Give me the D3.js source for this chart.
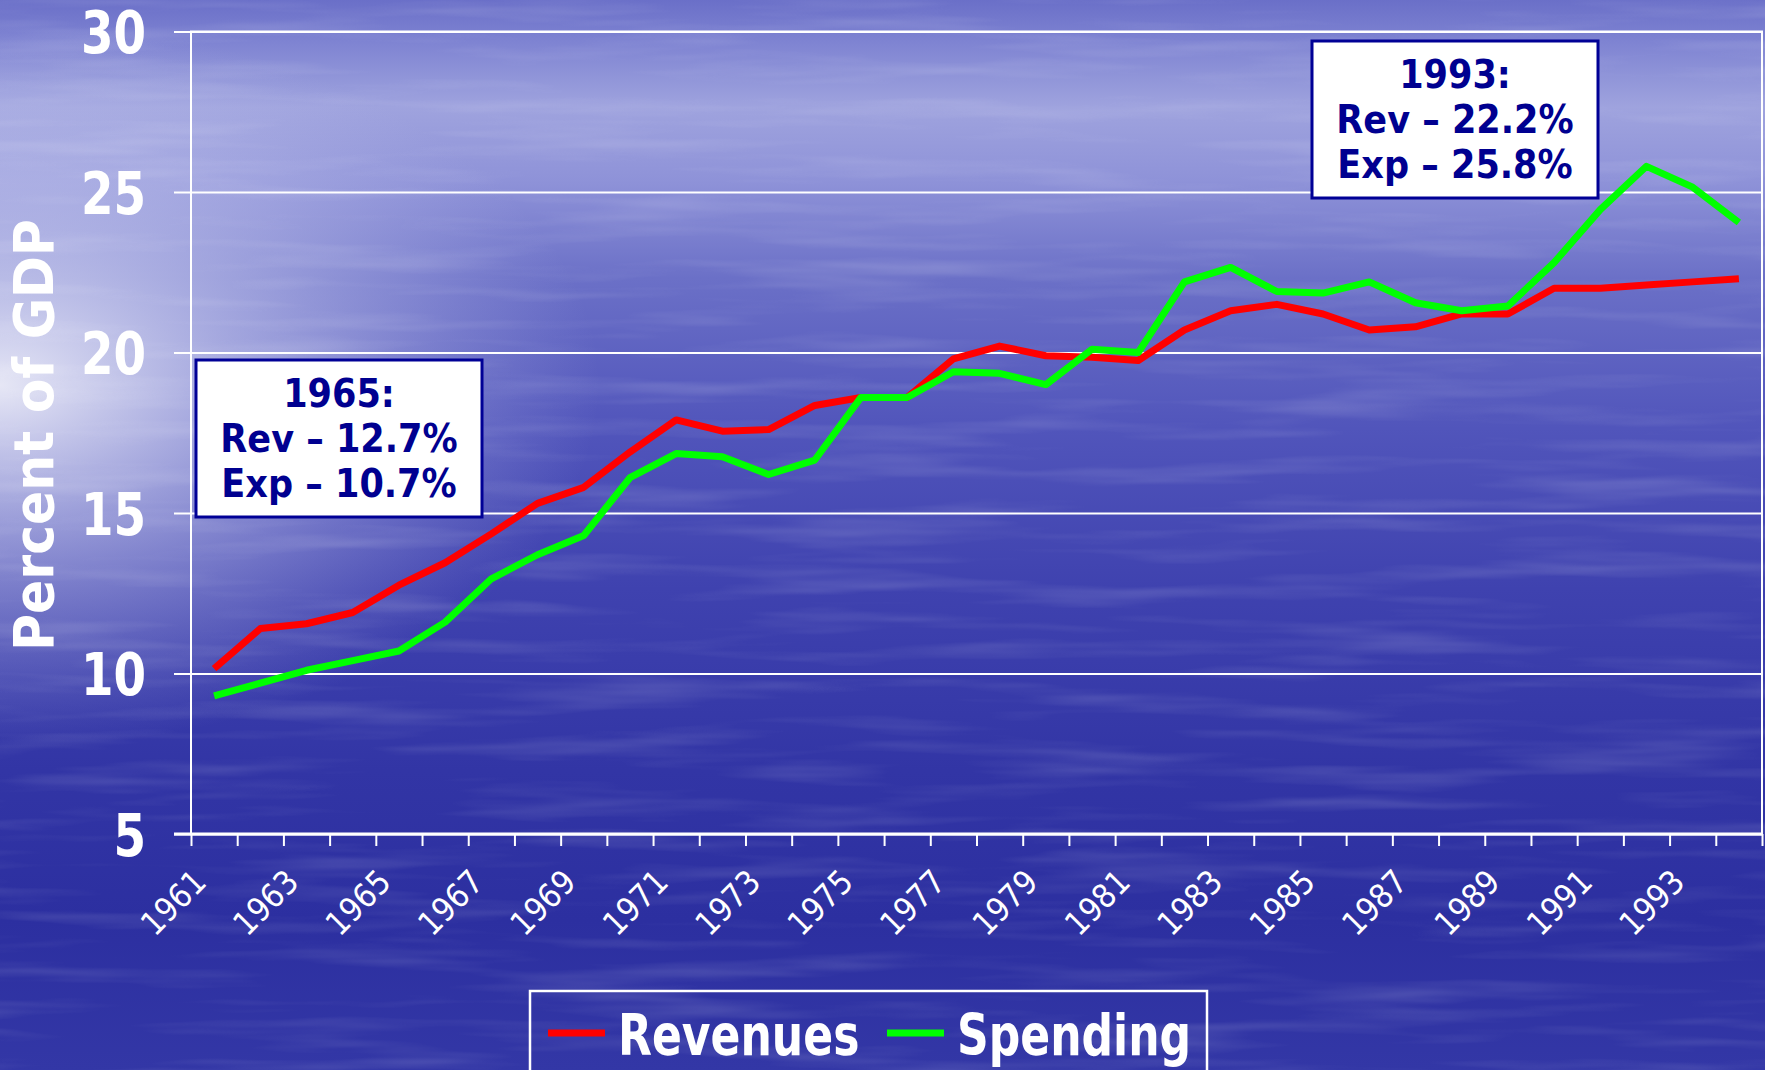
<!doctype html>
<html>
<head>
<meta charset="UTF-8">
<title>Revenues and Spending</title>
<script src="https://cdn.jsdelivr.net/npm/d3@7"></script>
<style>
  body { margin: 0; overflow: hidden; background: #3a3dab; }
  svg { display: block; }
  text { font-family: 'DejaVu Sans Condensed', 'DejaVu Sans', sans-serif; font-stretch: condensed; }
</style>
</head>
<body>
<script>

// data
var years = [1961, 1962, 1963, 1964, 1965, 1966, 1967, 1968, 1969, 1970,
             1971, 1972, 1973, 1974, 1975, 1976, 1977, 1978, 1979, 1980,
             1981, 1982, 1983, 1984, 1985, 1986, 1987, 1988, 1989, 1990,
             1991, 1992, 1993, 1994];

var revenues = [10.15, 11.4, 11.55, 11.9, 12.75, 13.45, 14.35, 15.3, 15.8, 16.9,
                17.9, 17.55, 17.6, 18.35, 18.6, 18.6, 19.8, 20.2, 19.9, 19.85,
                19.75, 20.7, 21.3, 21.5, 21.2, 20.7, 20.8, 21.2, 21.2, 22.0,
                22.0, 22.1, 22.2, 22.3];

var spending = [9.3, 9.7, 10.1, 10.4, 10.7, 11.6, 12.95, 13.7, 14.3, 16.1,
                16.85, 16.75, 16.2, 16.65, 18.6, 18.6, 19.4, 19.35, 19.0, 20.1,
                20.0, 22.2, 22.65, 21.9, 21.85, 22.2, 21.55, 21.3, 21.45, 22.8,
                24.45, 25.8, 25.15, 24.05];

var yTicks = [5, 10, 15, 20, 25, 30];
var xLabels = [1961, 1963, 1965, 1967, 1969, 1971, 1973, 1975, 1977,
               1979, 1981, 1983, 1985, 1987, 1989, 1991, 1993];

var seriesNames = ["Revenues", "Spending"];
var seriesColors = ["#ff0000", "#00ff00"];

var noteYears = ["1965", "1993"];
var noteRev = ["12.7%", "22.2%"];
var noteExp = ["10.7%", "25.8%"];

var W = 1765, H = 1070;
// plot area (note: "top" is taken by window.top)
var pL = 191, pR = 1762, pT = 31.5, pB = 834;

var svg = d3.select("body").append("svg")
    .attr("width", W)
    .attr("height", H);

// --- background (sea picture, roughly)
var defs = svg.append("defs");

var sky = defs.append("linearGradient").attr("id", "sky")
    .attr("x1", 0).attr("y1", 0).attr("x2", 0).attr("y2", 1);
[[0, "#6a6fc8"], [0.04, "#7f84d2"], [0.1, "#9fa3de"], [0.17, "#8e92d8"],
 [0.26, "#6b70c7"], [0.4, "#5155bb"], [0.55, "#3f42af"], [0.72, "#3235a5"],
 [0.86, "#2c2fa0"], [1, "#3337a6"]].forEach(function(s) {
    sky.append("stop").attr("offset", s[0]).attr("stop-color", s[1]);
});

var glow = defs.append("radialGradient").attr("id", "glow")
    .attr("cx", 0).attr("cy", 0.36).attr("r", 0.34);
glow.append("stop").attr("offset", 0).attr("stop-color", "#ffffff").attr("stop-opacity", 0.85);
glow.append("stop").attr("offset", 0.4).attr("stop-color", "#e6e8fa").attr("stop-opacity", 0.5);
glow.append("stop").attr("offset", 1).attr("stop-color", "#c8cbf0").attr("stop-opacity", 0);

var waves = defs.append("filter").attr("id", "waves")
    .attr("x", 0).attr("y", 0).attr("width", 1).attr("height", 1);
waves.append("feTurbulence")
    .attr("type", "fractalNoise")
    .attr("baseFrequency", "0.004 0.05")
    .attr("numOctaves", 3)
    .attr("seed", 7);
waves.append("feColorMatrix")
    .attr("type", "matrix")
    .attr("values", "0 0 0 0 1  0 0 0 0 1  0 0 0 0 1  2.2 0 0 0 -1.05");

svg.append("rect").attr("width", W).attr("height", H).attr("fill", "url(#sky)");
svg.append("rect").attr("width", W).attr("height", H).attr("fill", "url(#glow)");
svg.append("rect").attr("width", W).attr("height", H)
    .attr("filter", "url(#waves)").attr("opacity", 0.14);

// --- scales
var x = d3.scaleBand().domain(years).range([pL, pR]);
var xEdge = d3.scaleLinear().domain([0, years.length]).range([pL, pR]);
var y = d3.scaleLinear().domain([5, 30]).range([pB, pT]);

// y axis with gridlines
var yAxis = svg.append("g")
    .attr("transform", "translate(" + pL + ",0)")
    .call(d3.axisLeft(y).tickValues(yTicks).tickSize(17).tickPadding(28).tickFormat(d3.format("d")));
yAxis.select(".domain").remove();
yAxis.selectAll(".tick line").attr("stroke", "#fff").attr("stroke-width", 2);
yAxis.selectAll(".tick").append("line")
    .attr("x2", pR - pL)
    .attr("stroke", "#fff").attr("stroke-width", 2);
yAxis.selectAll(".tick text")
    .attr("fill", "#fff")
    .attr("font-size", 52)
    .attr("font-weight", "bold")
    .attr("dy", "0.36em")
    .attr("transform", "scale(1,1.13)");

// plot frame
svg.append("rect")
    .attr("x", pL).attr("y", pT)
    .attr("width", pR - pL).attr("height", pB - pT)
    .attr("fill", "none").attr("stroke", "#fff").attr("stroke-width", 2);

// x ticks at category edges
var xTickAxis = svg.append("g")
    .attr("transform", "translate(0," + pB + ")")
    .call(d3.axisBottom(xEdge).tickValues(d3.range(0, years.length + 1)).tickSize(12).tickFormat(""));
xTickAxis.select(".domain").attr("stroke", "#fff").attr("stroke-width", 3)
    .attr("d", "M" + (pL - 17) + ",0H" + pR);
xTickAxis.selectAll(".tick line").attr("stroke", "#fff").attr("stroke-width", 2);

// x labels, rotated
var xLabelAxis = svg.append("g")
    .attr("transform", "translate(0," + pB + ")")
    .call(d3.axisBottom(x).tickValues(xLabels).tickSize(0));
xLabelAxis.select(".domain").remove();
xLabelAxis.selectAll(".tick text")
    .attr("fill", "#fff")
    .attr("font-size", 33)
    .attr("text-anchor", "end")
    .attr("x", 0).attr("y", 0).attr("dy", 0)
    .attr("transform", "translate(-6,50) rotate(-45)");

// y title
svg.append("text")
    .attr("transform", "translate(53,435) rotate(-90)")
    .attr("text-anchor", "middle")
    .attr("fill", "#fff")
    .attr("font-size", 56)
    .attr("font-weight", "bold")
    .text("Percent of GDP");

// lines
var line = d3.line()
    .x(function(d, i) { return x(years[i]) + x.bandwidth() / 2; })
    .y(function(d) { return y(d); });

[revenues, spending].forEach(function(vals, k) {
    svg.append("path")
        .datum(vals)
        .attr("d", line)
        .attr("fill", "none")
        .attr("stroke", seriesColors[k])
        .attr("stroke-width", 7)
        .attr("stroke-linejoin", "round");
});

// annotation boxes
var boxPos = [[196, 360], [1312, 41]];
noteYears.forEach(function(yr, k) {
    var g = svg.append("g").attr("transform", "translate(" + boxPos[k][0] + "," + boxPos[k][1] + ")");
    g.append("rect")
        .attr("width", 286).attr("height", 157)
        .attr("fill", "#fff")
        .attr("stroke", "#000096").attr("stroke-width", 3);
    var lines = [yr + ":", "Rev \u2013 " + noteRev[k], "Exp \u2013 " + noteExp[k]];
    g.selectAll("text.note")
        .data(lines)
        .enter().append("text")
        .attr("x", 143)
        .attr("y", function(d, i) { return 47 + i * 45; })
        .attr("text-anchor", "middle")
        .attr("fill", "#000090")
        .attr("font-size", 39)
        .attr("font-weight", "bold")
        .text(function(d) { return d; });
});

// legend
svg.append("rect")
    .attr("x", 530).attr("y", 991)
    .attr("width", 677).attr("height", 120)
    .attr("fill", "none").attr("stroke", "#fff").attr("stroke-width", 2.5);

var legX = [548, 887];
seriesNames.forEach(function(name, k) {
    svg.append("line")
        .attr("x1", legX[k]).attr("x2", legX[k] + 57)
        .attr("y1", 1033).attr("y2", 1033)
        .attr("stroke", seriesColors[k]).attr("stroke-width", 7);
    svg.append("text")
        .attr("transform", "translate(" + (legX[k] + 70) + ",1055) scale(1,1.17)")
        .attr("fill", "#fff")
        .attr("font-size", 49)
        .attr("font-weight", "bold")
        .text(name);
});

</script>
</body>
</html>
